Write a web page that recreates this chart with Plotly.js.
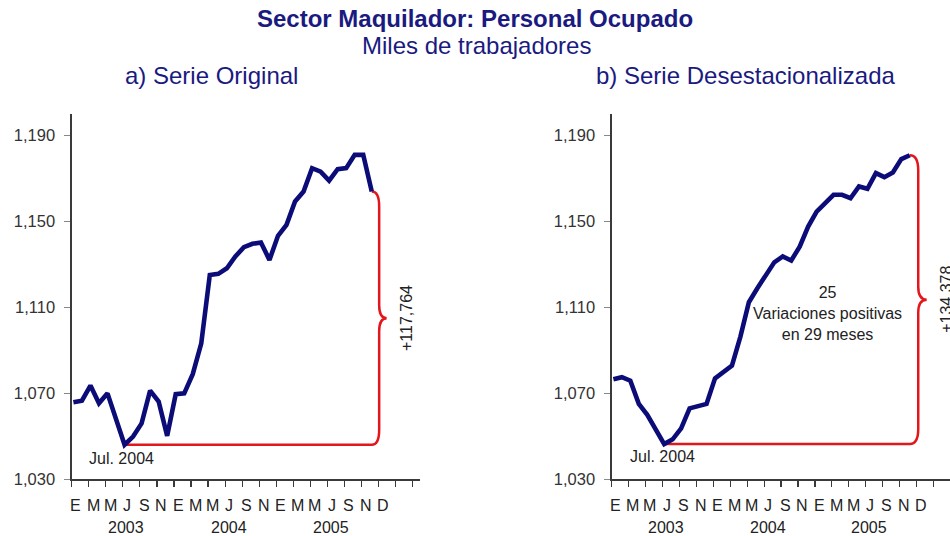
<!DOCTYPE html>
<html><head><meta charset="utf-8">
<script src="https://cdn.plot.ly/plotly-3.0.1.min.js"></script>
<style>html,body{margin:0;padding:0;background:#fff}#chart{width:950px;height:536px}</style>
</head><body><div id="chart"></div>
<script>
// ---- DATA ----
const periods = ['2003-01','2003-02','2003-03','2003-04','2003-05','2003-06','2003-07','2003-08','2003-09','2003-10','2003-11','2003-12',
                 '2004-01','2004-02','2004-03','2004-04','2004-05','2004-06','2004-07','2004-08','2004-09','2004-10','2004-11','2004-12',
                 '2005-01','2005-02','2005-03','2005-04','2005-05','2005-06','2005-07','2005-08','2005-09','2005-10','2005-11','2005-12'];
const serieOriginal = [1065.9,1066.6,1073.6,1065.4,1070.0,1058.0,1046.1,1049.9,1056.0,1071.3,1066.2,1050.2,
                       1069.6,1070.0,1078.9,1093.3,1125.1,1125.6,1128.2,1133.7,1138.0,1139.6,1140.2,1132.1,
                       1143.3,1148.4,1159.3,1163.9,1174.8,1173.2,1169.0,1174.3,1174.8,1181.0,1181.0,1163.9];
const serieDesest = [1076.6,1077.5,1075.9,1065.1,1060.0,1053.0,1046.4,1048.6,1053.7,1063.0,1064.1,1065.1,
                     1077.0,1080.1,1082.9,1096.4,1112.4,1118.9,1125.1,1131.0,1133.7,1131.8,1138.3,1147.6,
                     1154.6,1158.5,1162.4,1162.4,1160.8,1166.3,1165.2,1172.5,1170.6,1172.8,1179.0,1180.8];
const monthLetters = ['E','M','M','J','S','N','E','M','M','J','S','N','E','M','M','J','S','N','D'];
const yearLabels = ['2003','2004','2005'];
const yTicks = [1030,1070,1110,1150,1190];
const labelMin = 'Jul. 2004';
const labelDiffA = '+117,764';
const labelDiffB = '+134,378';
const noteB = '25<br>Variaciones positivas<br>en 29 meses';
const titleMain = 'Sector Maquilador: Personal Ocupado';
const titleSub = 'Miles de trabajadores';
const titleA = 'a) Serie Original';
const titleB = 'b) Serie Desestacionalizada';

// ---- STYLE ----
const NAVY = '#0c0c78', RED = '#e3161b', TXT = '#1a1a80', AX = '#3a3a3a';
const FONT = 'Arial, "Liberation Sans", sans-serif';
const W = 950, H = 536;
const xIdx = periods.map((p, i) => i);

function braceInfo(vals) {
  let mi = 0;
  vals.forEach((v, i) => { if (v < vals[mi]) mi = i; });
  return { mi: mi, min: vals[mi], last: vals.length - 1, top: vals[vals.length - 1] };
}
function bracePath(b, dv, dt) {
  const xe = b.last, xv = xe + dv, xt = xe + dt;
  const yb = b.min, yt = b.top, ym = (yb + yt) / 2, c = 7, c2 = 6;
  return `M${b.mi},${yb} L${xe},${yb} Q${xv},${yb} ${xv},${yb + c} L${xv},${ym - c2} Q${xv},${ym} ${xt},${ym}` +
         ` Q${xv},${ym} ${xv},${ym + c2} L${xv},${yt - c} Q${xv},${yt} ${xe},${yt}`;
}
const bA = braceInfo(serieOriginal), bB = braceInfo(serieDesest);

const traces = [
  { x: xIdx, y: serieOriginal, xaxis: 'x', yaxis: 'y', type: 'scatter', mode: 'lines',
    line: { color: NAVY, width: 4.6 }, hoverinfo: 'skip', showlegend: false },
  { x: xIdx, y: serieDesest, xaxis: 'x2', yaxis: 'y2', type: 'scatter', mode: 'lines',
    line: { color: NAVY, width: 4.6 }, hoverinfo: 'skip', showlegend: false }
];

const yDom = [(H - 479.3) / H, (H - 114) / H];
function xax(dom, rng) {
  return { domain: dom, range: rng, showgrid: false, zeroline: false, showline: true, linecolor: AX, linewidth: 1.3,
           ticks: 'outside', ticklen: 6, tickcolor: AX, tickwidth: 1.2, tickmode: 'linear', tick0: -0.2, dtick: 2,
           showticklabels: false, fixedrange: true };
}
function yax(anchor) {
  return { domain: yDom, range: [1030, 1200], anchor: anchor, showgrid: false, zeroline: false, showline: true,
           linecolor: AX, linewidth: 1.3, ticks: 'outside', ticklen: 6, tickcolor: '#888', tickwidth: 1,
           tickmode: 'array', tickvals: yTicks, tickformat: ',d', ticklabelstandoff: 6,
           tickfont: { family: FONT, size: 16.5, color: '#333' }, fixedrange: true };
}

const ann = [];
const T = (o) => ann.push(Object.assign({ showarrow: false, xanchor: 'center', yanchor: 'middle',
                                          font: { family: FONT, size: 16, color: '#222' } }, o));
T({ xref: 'paper', yref: 'paper', x: 475 / W, y: 1 - 18 / H, text: '<b>' + titleMain + '</b>',
    font: { family: FONT, size: 24, color: TXT } });
T({ xref: 'paper', yref: 'paper', x: 476.5 / W, y: 1 - 45 / H, text: titleSub,
    font: { family: FONT, size: 24, color: TXT } });
T({ xref: 'paper', yref: 'paper', x: 211 / W, y: 1 - 75 / H, text: titleA,
    font: { family: FONT, size: 24, color: TXT } });
T({ xref: 'paper', yref: 'paper', x: 745 / W, y: 1 - 75 / H, text: titleB,
    font: { family: FONT, size: 24, color: TXT } });

['x', 'x2'].forEach((xr) => {
  monthLetters.forEach((m, k) => T({ xref: xr, yref: 'paper', x: 2 * k + 0.3, y: 1 - 505 / H, text: m }));
  yearLabels.forEach((yl, k) => T({ xref: xr, yref: 'paper', x: 12 * k + 6.2, y: 1 - 527 / H, text: yl }));
});
T({ xref: 'x', yref: 'y', x: bA.mi - 0.3, y: bA.min - 6.5, text: labelMin });
T({ xref: 'x2', yref: 'y2', x: bB.mi - 0.26, y: bB.min - 6, text: labelMin });
T({ xref: 'x', yref: 'y', x: bA.last + 4.0, y: (bA.min + bA.top) / 2, text: labelDiffA, textangle: -90 });
T({ xref: 'x2', yref: 'y2', x: bB.last + 4.3, y: (bB.min + bB.top) / 2, text: labelDiffB, textangle: -90 });
T({ xref: 'x2', yref: 'y2', x: 25.3, y: 1107, text: noteB });

const shapes = [
  { type: 'path', xref: 'x', yref: 'y', path: bracePath(bA, 0.87, 1.75), line: { color: RED, width: 2.5 }, layer: 'below' },
  { type: 'path', xref: 'x2', yref: 'y2', path: bracePath(bB, 1.0, 2.0), line: { color: RED, width: 2.5 }, layer: 'below' }
];

const layout = {
  width: W, height: H, margin: { l: 0, r: 0, t: 0, b: 0 },
  paper_bgcolor: '#fff', plot_bgcolor: 'rgba(0,0,0,0)',
  xaxis: Object.assign(xax([71.7 / W, 420 / W], [-0.2, 40.66]), { anchor: 'y' }),
  yaxis: yax('x'),
  xaxis2: Object.assign(xax([611.7 / W, 1], [-0.2, 39.75]), { anchor: 'y2' }),
  yaxis2: yax('x2'),
  annotations: ann, shapes: shapes, showlegend: false
};
Plotly.newPlot('chart', traces, layout, { staticPlot: true, displayModeBar: false });
</script>
</body></html>
